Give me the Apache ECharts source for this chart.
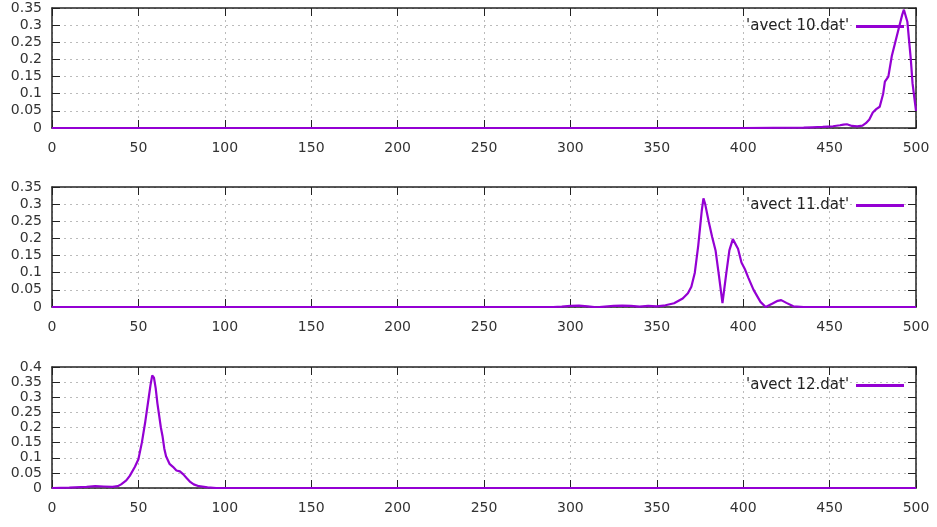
<!DOCTYPE html>
<html>
<head>
<meta charset="utf-8">
<script src="https://cdn.jsdelivr.net/npm/echarts/dist/echarts.min.js"></script>
<style>html,body{margin:0;padding:0;background:#fff;}#c{width:937px;height:527px;}</style>
</head>
<body>
<div id="c"></div>
<script>
// ---- data ----
var names = ["'avect 10.dat'", "'avect 11.dat'", "'avect 12.dat'"];
var xTicks = [0, 50, 100, 150, 200, 250, 300, 350, 400, 450, 500];
var yMax = [0.35, 0.35, 0.4];

var x10 = [0, 100, 200, 300, 400, 435, 440, 446, 452, 456, 458, 460, 463, 466, 469, 471, 473, 475, 477, 479, 481, 482, 484, 486, 488, 490, 491, 492, 493, 494, 495, 496, 497, 498, 499, 500];
var y10 = [0, 0, 0, 0, 0, 0.001, 0.002, 0.003, 0.005, 0.008, 0.010, 0.011, 0.006, 0.005, 0.007, 0.014, 0.025, 0.045, 0.055, 0.062, 0.10, 0.135, 0.15, 0.21, 0.25, 0.29, 0.31, 0.33, 0.345, 0.34, 0.31, 0.255, 0.2, 0.13, 0.09, 0.05];

var x11 = [0, 100, 200, 290, 295, 300, 305, 310, 315, 320, 325, 330, 335, 340, 345, 350, 355, 360, 365, 368, 370, 372, 374, 376, 377, 378, 380, 382, 384, 386, 388, 390, 392, 394, 395, 397, 399, 401, 403, 406, 410, 413, 417, 420, 422, 425, 429, 435, 500];
var y11 = [0, 0, 0, 0, 0.001, 0.003, 0.004, 0.002, -0.001, 0.001, 0.003, 0.004, 0.003, 0.001, 0.003, 0.002, 0.005, 0.011, 0.025, 0.04, 0.059, 0.1, 0.18, 0.28, 0.317, 0.3, 0.25, 0.205, 0.165, 0.09, 0.011, 0.09, 0.165, 0.198, 0.2, 0.17, 0.13, 0.11, 0.085, 0.05, 0.015, 0.0, 0.01, 0.018, 0.02, 0.012, 0.002, 0, 0];

var x12 = [0, 10, 20, 25, 30, 35, 38, 40, 43, 45, 48, 50, 52, 54, 56, 57, 58, 59, 60, 61, 62, 63, 64, 65, 66, 68, 70, 72, 74, 76, 78, 80, 82, 85, 90, 95, 100, 200, 300, 400, 500];
var y12 = [0, 0.001, 0.004, 0.006, 0.005, 0.004, 0.006, 0.012, 0.025, 0.04, 0.07, 0.095, 0.15, 0.22, 0.3, 0.34, 0.372, 0.365, 0.33, 0.28, 0.24, 0.2, 0.17, 0.13, 0.105, 0.08, 0.07, 0.058, 0.055, 0.045, 0.032, 0.02, 0.012, 0.006, 0.002, 0.0, 0, 0, 0, 0, 0];

var xs = [x10, x11, x12];
var ys = [y10, y11, y12];

// ---- layout ----
var gridTops = [8, 187, 367];
var gridHeights = [120, 120, 121];
var FONT = 'DejaVu Sans';
var LINE = '#9400d3';
var grids = [], xAxes = [], yAxes = [], series = [], legends = [];

function pairs(a, b) { return a.map(function (v, i) { return [v, b[i]]; }); }

for (var i = 0; i < 3; i++) {
  grids.push({ left: 52, right: 21, top: gridTops[i], height: gridHeights[i] });
  var axLine = { show: true, onZero: false, lineStyle: { color: '#222', width: 1.5 } };
  var tick = { show: true, inside: true, length: 8, lineStyle: { color: '#222', width: 1 } };
  var split = { show: true, lineStyle: { color: '#bbb', type: [2, 4], width: 1 } };
  xAxes.push({
    type: 'value', gridIndex: i, position: 'bottom', min: 0, max: 500, interval: 50,
    axisLine: axLine, axisTick: tick, splitLine: split,
    axisLabel: { fontFamily: FONT, fontSize: 14, color: '#333', margin: 13,
      formatter: function (v) { return xTicks.indexOf(v) >= 0 ? String(v) : ''; } }
  });
  xAxes.push({
    type: 'value', gridIndex: i, position: 'top', min: 0, max: 500, interval: 50,
    axisLine: axLine, axisTick: tick, splitLine: { show: false }, axisLabel: { show: false }
  });
  yAxes.push({
    type: 'value', gridIndex: i, position: 'left', min: 0, max: yMax[i], interval: 0.05,
    axisLine: axLine, axisTick: tick, splitLine: split,
    axisLabel: { fontFamily: FONT, fontSize: 14, color: '#333', margin: 10,
      formatter: function (v) { return String(parseFloat(v.toFixed(2))); } }
  });
  yAxes.push({
    type: 'value', gridIndex: i, position: 'right', min: 0, max: yMax[i], interval: 0.05,
    axisLine: axLine, axisTick: tick, splitLine: { show: false }, axisLabel: { show: false }
  });
  series.push({
    name: names[i], type: 'line', xAxisIndex: 2 * i, yAxisIndex: 2 * i,
    data: pairs(xs[i], ys[i]), showSymbol: false, symbol: 'none',
    lineStyle: { color: LINE, width: 2.2 }, itemStyle: { color: LINE }, z: 5
  });
  legends.push({
    data: [names[i]], right: 33, top: gridTops[i] + 11, padding: 0, align: 'right',
    icon: 'rect', itemWidth: 48, itemHeight: 3,
    itemStyle: { color: LINE, borderWidth: 0, decal: 'none' },
    lineStyle: { color: LINE, width: 0, type: 'solid', opacity: 0 },
    textStyle: { fontFamily: FONT, fontSize: 15, color: '#222', padding: [0, 2, 0, 0] }
  });
}

var chart = echarts.init(document.getElementById('c'), null, { renderer: 'canvas' });
chart.setOption({
  backgroundColor: '#fff', animation: false,
  grid: grids, xAxis: xAxes, yAxis: yAxes, series: series, legend: legends
});
</script>
</body>
</html>
